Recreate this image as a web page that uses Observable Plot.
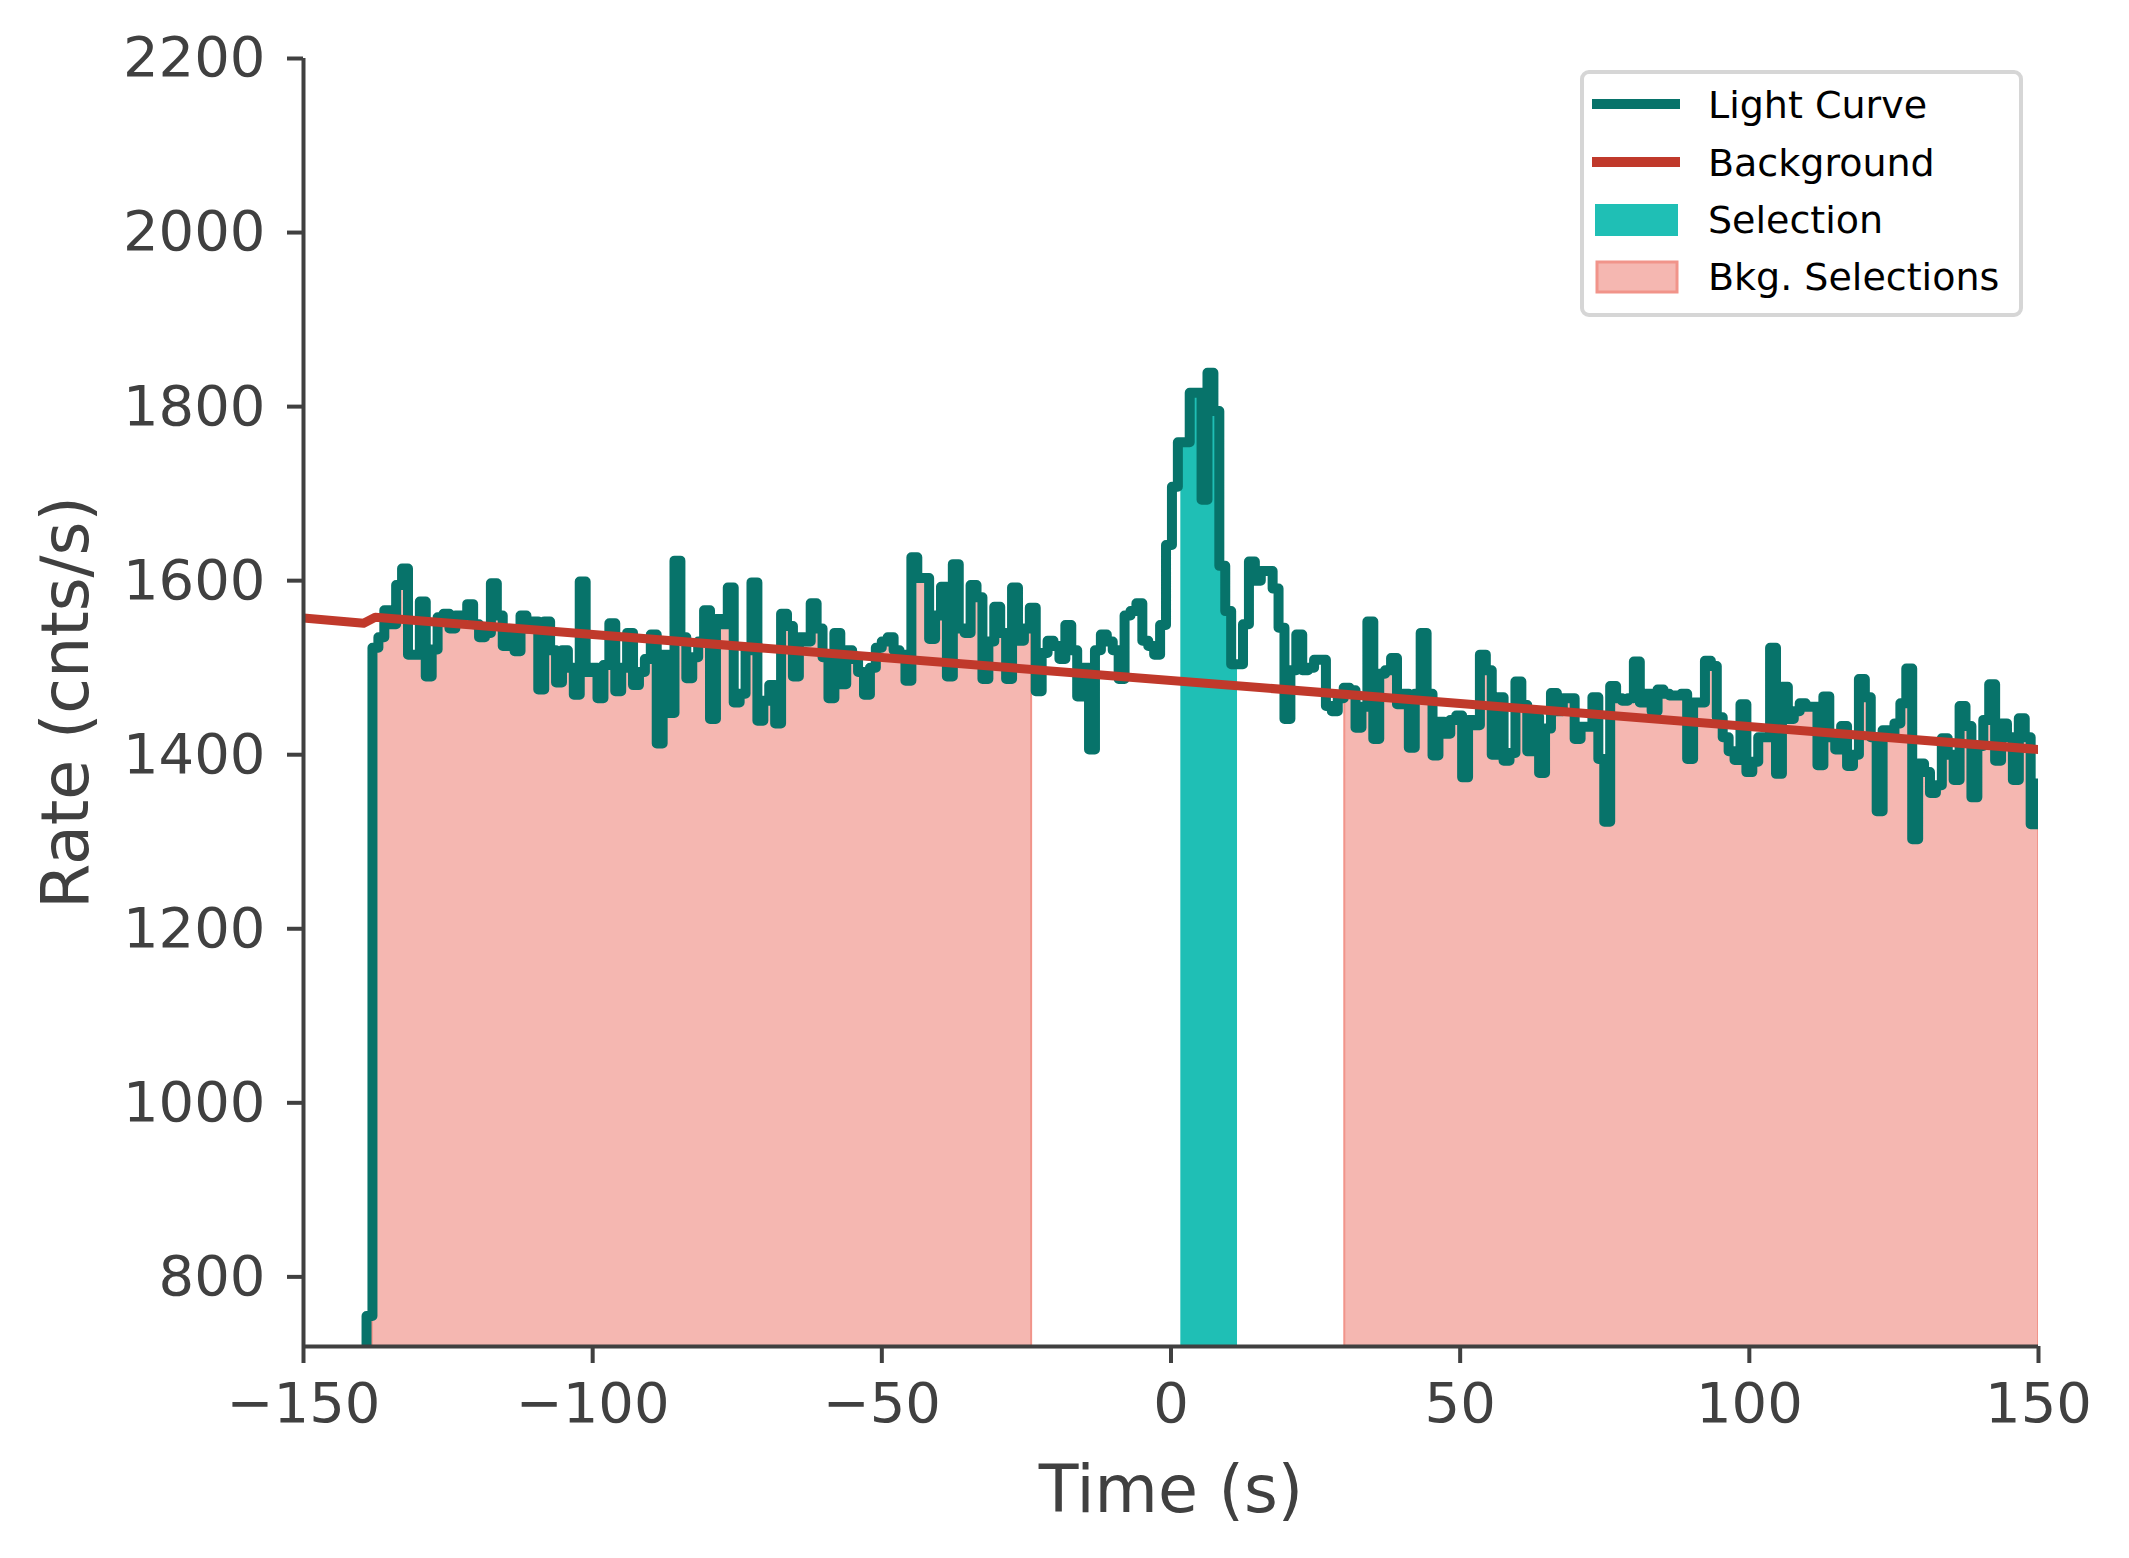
<!DOCTYPE html>
<html>
<head>
<meta charset="utf-8">
<script src="https://cdn.jsdelivr.net/npm/d3@7"></script>
<script src="https://cdn.jsdelivr.net/npm/@observablehq/plot@0.6"></script>
<style>
  html, body { margin: 0; padding: 0; background: #ffffff; }
  #chart svg { display: block; }
</style>
</head>
<body>
<div id="chart"></div>
<script>
// ---- Light curve (1.024 s bins); first bin is the empty pre-data bin ----
const lcFirstBinStart = -140.124;
const lcBinWidth = 1.024;
const lcRates = [
  0,
  755,1523,1535,1566,1550,1595,1614,1515,1515,1576,
  1490,1521,1558,1562,1545,1560,1560,1573,1550,1535,
  1540,1597,1560,1525,1540,1519,1560,1545,1553,1475,
  1553,1520,1483,1520,1500,1469,1599,1495,1500,1465,
  1503,1551,1473,1500,1540,1480,1495,1510,1538,1413,
  1515,1448,1623,1535,1488,1512,1530,1566,1441,1556,
  1550,1592,1460,1470,1520,1598,1439,1462,1480,1436,
  1562,1548,1490,1535,1530,1574,1545,1512,1465,1540,
  1481,1520,1510,1495,1469,1500,1523,1530,1535,1520,
  1515,1485,1627,1603,1603,1533,1560,1593,1490,1619,
  1545,1540,1595,1581,1487,1530,1570,1540,1487,1592,
  1531,1545,1569,1473,1517,1531,1525,1510,1549,1520,
  1467,1500,1406,1520,1538,1530,1520,1487,1560,1565,
  1574,1531,1525,1515,1549,1641,1708,1759,1759,1816,
  1816,1693,1839,1795,1617,1565,1504,1504,1550,1622,
  1600,1611,1611,1591,1546,1441,1497,1538,1497,1500,
  1509,1509,1456,1450,1465,1477,1474,1431,1455,1553,
  1418,1493,1497,1511,1458,1470,1408,1470,1540,1470,
  1399,1438,1424,1440,1445,1374,1440,1434,1515,1497,
  1400,1466,1393,1402,1484,1457,1404,1444,1379,1430,
  1471,1450,1465,1465,1418,1432,1432,1466,1395,1323,
  1479,1465,1462,1465,1507,1460,1470,1450,1475,1470,
  1468,1468,1470,1395,1460,1460,1508,1502,1443,1420,
  1404,1394,1458,1380,1392,1420,1420,1523,1378,1478,
  1441,1450,1459,1455,1455,1388,1467,1420,1406,1433,
  1387,1400,1487,1466,1420,1335,1428,1424,1436,1459,
  1499,1303,1390,1380,1356,1365,1419,1400,1371,1456,
  1433,1351,1410,1440,1481,1393,1436,1420,1371,1442,
  1420,1320,1367
];

// ---- Background model ----
const bkgTimes = [-150, -139.6, -137.6, 150];
const bkgRates = [1557, 1551, 1558, 1406];

// ---- Selections ----
const sourceSelection = [1.7, 11.5];
const bkgSelections = [[-138.1, -24.1], [30.05, 150]];

// ---- Axes ----
const xTicks = [-150, -100, -50, 0, 50, 100, 150];
const yTicks = [800, 1000, 1200, 1400, 1600, 1800, 2000, 2200];
const xDomain = [-150, 150];
const yDomain = [720, 2200];

// ---- Legend ----
const legendLabels = ["Light Curve", "Background", "Selection", "Bkg. Selections"];

// colors
const C_LC = "#07736a", C_BKG = "#c0392b", C_SEL = "#1fbfb5", C_BSEL = "#f5b7b1", C_BSEL_EDGE = "#f1948a";
const C_AXIS = "#404040";

// build step data
const lc = lcRates.map((v, i) => ({t: lcFirstBinStart + i * lcBinWidth, v}));
lc.push({t: lcFirstBinStart + lcRates.length * lcBinWidth, v: lcRates[lcRates.length - 1]});
const bkg = bkgTimes.map((t, i) => ({t, v: bkgRates[i]}));

function stepsWithin(a, b) {
  const pts = [];
  for (let i = 0; i < lcRates.length; i++) {
    const s = lcFirstBinStart + i * lcBinWidth, e = s + lcBinWidth;
    if (e <= a || s >= b) continue;
    pts.push({t: Math.max(s, a), v: lcRates[i]});
  }
  pts.push({t: b, v: pts[pts.length - 1].v});
  return pts;
}

const fmt = d => d < 0 ? "\u2212" + Math.abs(d) : String(d);

const chart = Plot.plot({
  width: 2129,
  height: 1558,
  marginLeft: 303,
  marginRight: 91,
  marginTop: 58,
  marginBottom: 212,
  style: {fontFamily: "DejaVu Sans", background: "#ffffff", color: C_AXIS, overflow: "visible"},
  x: {domain: xDomain},
  y: {domain: yDomain},
  marks: [
    ...bkgSelections.map(([a, b]) => Plot.areaY(stepsWithin(a, b), {
      x: "t", y: "v", curve: "step-after", fill: C_BSEL, stroke: C_BSEL_EDGE, strokeWidth: 2, clip: true
    })),
    Plot.areaY(stepsWithin(sourceSelection[0], sourceSelection[1]), {
      x: "t", y: "v", curve: "step-after", fill: C_SEL, clip: true
    }),
    Plot.line(lc, {x: "t", y: "v", curve: "step-after", stroke: C_LC, strokeWidth: 10,
      strokeLinecap: "round", strokeLinejoin: "round", clip: true}),
    Plot.line(bkg, {x: "t", y: "v", stroke: C_BKG, strokeWidth: 9, strokeLinejoin: "round", clip: true}),
    Plot.axisX({ticks: xTicks, tickFormat: fmt, tickSize: 17, tickPadding: 19, fontSize: 56,
      strokeWidth: 4, color: C_AXIS, label: null}),
    Plot.axisY({ticks: yTicks, tickFormat: fmt, tickSize: 16, tickPadding: 22, fontSize: 56,
      strokeWidth: 4, color: C_AXIS, label: null}),
    Plot.ruleX([xDomain[0]], {stroke: C_AXIS, strokeWidth: 4}),
    Plot.ruleY([yDomain[0]], {stroke: C_AXIS, strokeWidth: 4}),
    Plot.text(["Time (s)"], {text: d => d, frameAnchor: "bottom", lineAnchor: "bottom", textAnchor: "middle",
      dy: 165, fontSize: 65, fill: C_AXIS}),
    Plot.text(["Rate (cnts/s)"], {text: d => d, frameAnchor: "left", textAnchor: "middle", lineAnchor: "middle",
      dx: -236, rotate: -90, fontSize: 65, fill: C_AXIS})
  ]
});

document.getElementById("chart").appendChild(chart);

// ---- legend ----
const svg = d3.select(chart);
const lg = svg.append("g").attr("font-family", "DejaVu Sans").attr("font-size", 38)
  .attr("fill", "#000").attr("text-anchor", "start");
lg.append("rect").attr("x", 1582).attr("y", 72).attr("width", 439).attr("height", 243).attr("rx", 7)
  .attr("fill", "#ffffff").attr("stroke", "#d6d6d6").attr("stroke-width", 4);
const rowBase = [118, 176, 233, 290];
const rowMid = [104, 162, 220, 277];
lg.append("line").attr("x1", 1592).attr("x2", 1680).attr("y1", rowMid[0]).attr("y2", rowMid[0])
  .attr("stroke", C_LC).attr("stroke-width", 10);
lg.append("line").attr("x1", 1592).attr("x2", 1680).attr("y1", rowMid[1]).attr("y2", rowMid[1])
  .attr("stroke", C_BKG).attr("stroke-width", 10);
lg.append("rect").attr("x", 1595).attr("y", rowMid[2] - 16).attr("width", 83).attr("height", 32).attr("fill", C_SEL);
lg.append("rect").attr("x", 1597).attr("y", rowMid[3] - 15).attr("width", 80).attr("height", 30)
  .attr("fill", C_BSEL).attr("stroke", C_BSEL_EDGE).attr("stroke-width", 3);
legendLabels.forEach((s, i) => {
  lg.append("text").attr("x", 1708).attr("y", rowBase[i]).attr("text-anchor", "start").text(s);
});
</script>
</body>
</html>
